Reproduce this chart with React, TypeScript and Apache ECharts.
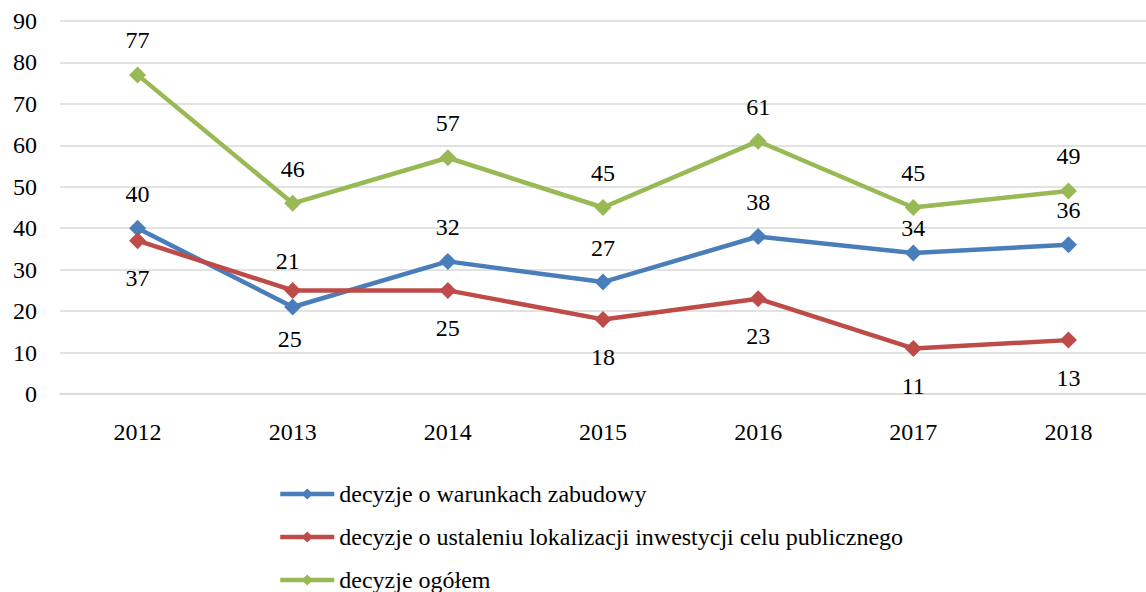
import React, { useEffect, useRef } from "react";
import * as echarts from "echarts";

const categories = ["2012", "2013", "2014", "2015", "2016", "2017", "2018"];
const warunki = [40, 21, 32, 27, 38, 34, 36];
const lokalizacja = [37, 25, 25, 18, 23, 11, 13];
const ogolem = [77, 46, 57, 45, 61, 45, 49];
const seriesNames = [
  "decyzje o warunkach zabudowy",
  "decyzje o ustaleniu lokalizacji inwestycji celu publicznego",
  "decyzje ogółem",
];
const colors = ["#4a7ebb", "#be4b48", "#98b954"];

const FONT = "Liberation Serif";
const FS = 24;

export default function App() {
  const ref = useRef<HTMLDivElement>(null);
  useEffect(() => {
    if (!ref.current) return;
    const chart = echarts.init(ref.current, undefined, { renderer: "svg" });
    const mk = (
      vals: number[],
      pos: "top" | "bottom",
      dist: number,
      special: Record<number, { d: number; dx?: number }>
    ) =>
      vals.map((v, i) => {
        const s = special[i];
        return {
          value: v,
          label: {
            position: pos,
            distance: s ? s.d : dist,
            offset: [s && s.dx ? s.dx : 0, 0],
          },
        };
      });
    const baseSeries = (idx: number, data: any[]) => ({
      name: seriesNames[idx],
      type: "line",
      data,
      symbol: "diamond",
      symbolSize: 17,
      lineStyle: { width: 4.5, color: colors[idx] },
      itemStyle: { color: colors[idx] },
      label: {
        show: true,
        color: "#000",
        fontFamily: FONT,
        fontSize: FS,
      },
      emphasis: { disabled: true },
    });
    chart.setOption({
      animation: false,
      backgroundColor: "#fff",
      grid: { left: 60, right: -13, top: 21, bottom: 198, containLabel: false },
      xAxis: {
        type: "category",
        data: categories,
        boundaryGap: true,
        axisLine: { show: true, lineStyle: { color: "#d9d9d9", width: 1.5 } },
        axisTick: { show: false },
        axisLabel: { color: "#000", fontFamily: FONT, fontSize: FS, margin: 26 },
      },
      yAxis: {
        type: "value",
        min: 0,
        max: 90,
        interval: 10,
        axisLine: { show: false },
        axisTick: { show: false },
        axisLabel: { color: "#000", fontFamily: FONT, fontSize: FS, margin: 23 },
        splitLine: { lineStyle: { color: "#d9d9d9", width: 1.5 } },
      },
      legend: {
        orient: "vertical",
        left: 278,
        top: 482,
        height: 150,
        padding: 0,
        itemWidth: 54,
        itemHeight: 14,
        itemGap: 19,
        textStyle: { color: "#000", fontFamily: FONT, fontSize: FS, lineHeight: 22 },
        data: seriesNames.map((n, i) => ({
          name: n,
          lineStyle: { width: 4.5, color: colors[i] },
          itemStyle: { color: colors[i] },
        })),
      },
      series: [
        baseSeries(0, mk(warunki, "top", 14, { 1: { d: 25, dx: -5 }, 5: { d: 5 } })),
        baseSeries(1, mk(lokalizacja, "bottom", 17, { 1: { d: 28, dx: -3 } })),
        baseSeries(2, mk(ogolem, "top", 14, {})),
      ],
    });
    return () => chart.dispose();
  }, []);
  return (
    <div
      ref={ref}
      style={{ position: "absolute", left: 0, top: 0, width: 1146, height: 592 }}
    />
  );
}
